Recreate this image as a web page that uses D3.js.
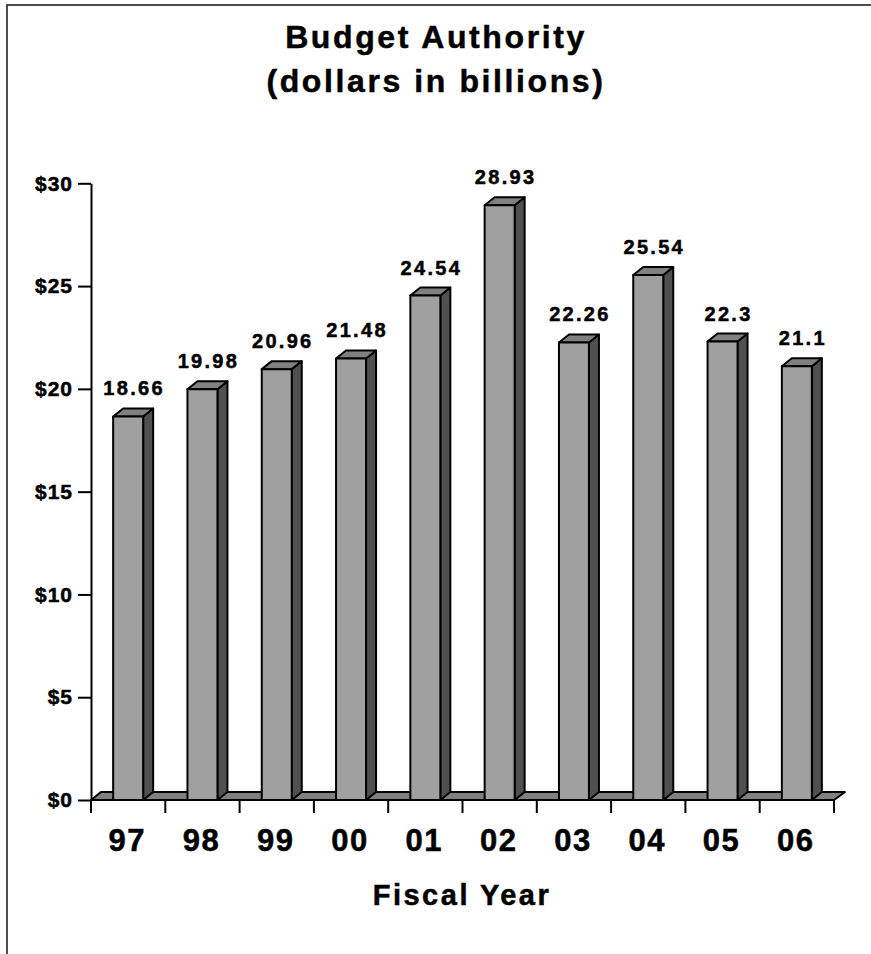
<!DOCTYPE html>
<html>
<head>
<meta charset="utf-8">
<script src="https://cdn.jsdelivr.net/npm/d3@7"></script>
<style>
  body { margin: 0; background: #fff; }
  svg text { font-family: "Liberation Sans", Arial, sans-serif; font-weight: bold; fill: #000; stroke: #000; stroke-width: 0.5px; }
</style>
</head>
<body>
<svg id="chart" width="871" height="954"></svg>
<script>
// data
const years = ["97", "98", "99", "00", "01", "02", "03", "04", "05", "06"];
const budget = [18.66, 19.98, 20.96, 21.48, 24.54, 28.93, 22.26, 25.54, 22.3, 21.1];
const yTicks = [0, 5, 10, 15, 20, 25, 30];
const titleLines = ["Budget Authority", "(dollars in billions)"];

const svg = d3.select("#chart");

// frame (only left and top edges show)
svg.append("rect")
  .attr("x", 7).attr("y", 5)
  .attr("width", 900).attr("height", 1000)
  .attr("fill", "none")
  .attr("stroke", "#222")
  .attr("stroke-width", 1.6);

const x = d3.scaleBand().domain(years).range([91, 834]).padding(0);
const y = d3.scaleLinear().domain([0, 30]).range([800, 183.3]);

const dx = 10, dy = 8;   // depth of the 3d effect
const barW = 30;

// title
svg.append("g")
  .selectAll("text")
  .data(titleLines)
  .join("text")
  .attr("x", 436)
  .attr("y", (d, i) => 48 + i * 44)
  .attr("text-anchor", "middle")
  .attr("font-size", 32)
  .attr("letter-spacing", 2.6)
  .text(d => d);

// floor
const x0 = x.range()[0], x1 = x.range()[1], y0 = y(0);
svg.append("path")
  .attr("d", `M${x0},${y0}L${x1},${y0}L${x1 + dx + 1},${y0 - dy}L${x0 + dx},${y0 - dy}Z`)
  .attr("fill", "#808080")
  .attr("stroke", "#000")
  .attr("stroke-width", 2)
  .attr("stroke-linejoin", "round");

// bars
const bars = svg.append("g")
  .selectAll("g")
  .data(years.map((yr, i) => ({ yr, v: budget[i] })))
  .join("g");

const left = d => x(d.yr) + x.bandwidth() / 2 - barW / 2;

bars.append("path") // side
  .attr("d", d => {
    const l = left(d) + barW, t = y(d.v);
    return `M${l},${y0}L${l + dx},${y0 - dy}L${l + dx},${t - dy}L${l},${t}Z`;
  })
  .attr("fill", "#505050");

bars.append("path") // top
  .attr("d", d => {
    const l = left(d), t = y(d.v);
    return `M${l},${t}L${l + dx},${t - dy}L${l + barW + dx},${t - dy}L${l + barW},${t}Z`;
  })
  .attr("fill", "#808080");

bars.append("rect") // front
  .attr("x", left)
  .attr("y", d => y(d.v))
  .attr("width", barW)
  .attr("height", d => y0 - y(d.v))
  .attr("fill", "#a0a0a0");

bars.selectAll("path, rect")
  .attr("stroke", "#000")
  .attr("stroke-width", 2)
  .attr("stroke-linejoin", "round");

// value labels
bars.append("text")
  .attr("x", d => left(d) + (barW + dx) / 2 + 1)
  .attr("y", d => y(d.v) - 21)
  .attr("text-anchor", "middle")
  .attr("font-size", 20)
  .attr("letter-spacing", 2.3)
  .text(d => String(d.v));

// y axis
const yAxis = svg.append("g")
  .attr("transform", `translate(${x0},0)`)
  .call(d3.axisLeft(y).tickValues(yTicks).tickSize(13).tickSizeOuter(0).tickPadding(5).tickFormat(d => "$" + d));
yAxis.select(".domain").attr("stroke", "#000").attr("stroke-width", 2);
yAxis.selectAll(".tick line").attr("stroke", "#000").attr("stroke-width", 2);
yAxis.selectAll(".tick text")
  .attr("font-size", 21)
  .attr("letter-spacing", 1)
  .attr("font-family", "Liberation Sans, Arial, sans-serif")
  .attr("font-weight", "bold")
  .attr("fill", "#000");

// x ticks at band edges
const edges = years.map(d => x(d)).concat([x1]);
svg.append("g")
  .selectAll("line")
  .data(edges)
  .join("line")
  .attr("x1", d => d).attr("x2", d => d)
  .attr("y1", y0).attr("y2", y0 + 13)
  .attr("stroke", "#000")
  .attr("stroke-width", 2);

// x labels
svg.append("g")
  .selectAll("text")
  .data(years)
  .join("text")
  .attr("x", d => x(d) + x.bandwidth() / 2 - 1)
  .attr("y", 851)
  .attr("text-anchor", "middle")
  .attr("font-size", 31)
  .attr("letter-spacing", 1.5)
  .text(d => d);

// x title
svg.append("text")
  .attr("x", 462)
  .attr("y", 905)
  .attr("text-anchor", "middle")
  .attr("font-size", 29)
  .attr("letter-spacing", 2.5)
  .text("Fiscal Year");
</script>
</body>
</html>
